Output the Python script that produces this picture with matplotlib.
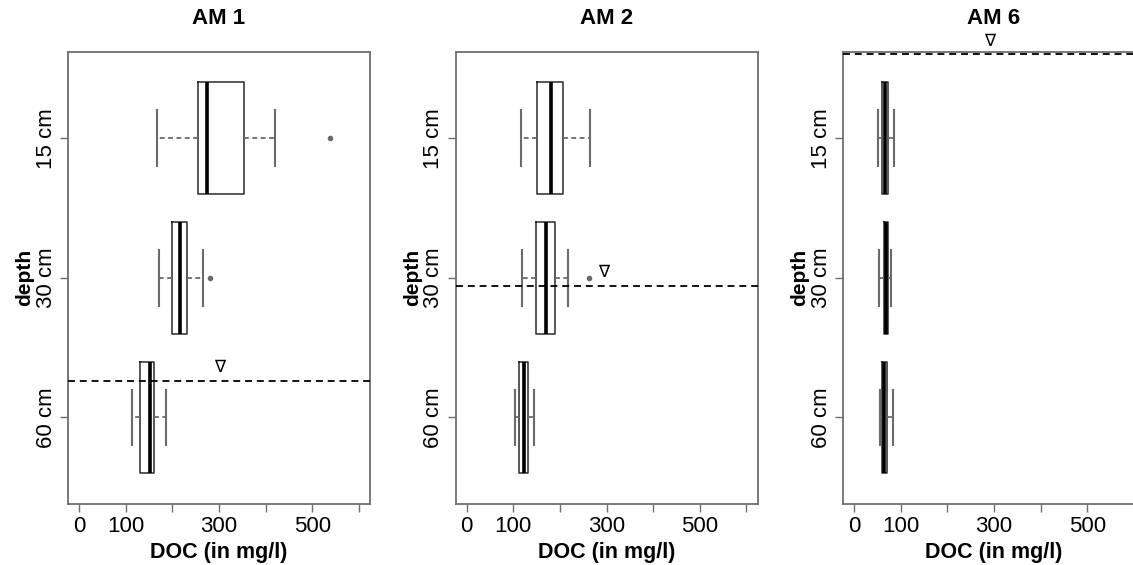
"""DOC concentration by sampling depth for three monitoring sites (AM 1, AM 2, AM 6)."""
import matplotlib

matplotlib.use("Agg")
import matplotlib.pyplot as plt

plt.rcParams["font.family"] = ["Liberation Sans", "DejaVu Sans"]
plt.rcParams["lines.scale_dashes"] = False

sites = ["AM 1", "AM 2", "AM 6"]
depths = ["15 cm", "30 cm", "60 cm"]

# five-number summaries per site, depths top to bottom (15, 30, 60 cm)
whisker_lo = [[167, 172, 113], [116, 118, 104], [52, 54, 56]]
q1 = [[256, 200, 131], [151, 148, 113], [59, 63, 59]]
median = [[275, 217, 152], [180, 170, 123], [66, 68, 64]]
q3 = [[353, 232, 160], [207, 189, 131], [73, 73, 70]]
whisker_hi = [[421, 265, 186], [265, 217, 145], [85, 79, 83]]
outliers = [[[539], [280], []], [[], [262], []], [[], [], []]]

# groundwater level (in depth-axis units) and x of the level marker
water_level = [2.74, 2.06, 0.40]
marker_x = [302, 294, 290]

W, H = 1133, 565
fig = plt.figure(figsize=(W / 100, H / 100), dpi=100)

frame = "#6e6e6e"
for i, site in enumerate(sites):
    left = 68 + i * 387.5
    ax = fig.add_axes([left / W, (H - 504) / H, 302 / W, (504 - 51.7) / H])

    stats = []
    for j in range(len(depths)):
        stats.append({
            "whislo": whisker_lo[i][j], "q1": q1[i][j], "med": median[i][j],
            "q3": q3[i][j], "whishi": whisker_hi[i][j], "fliers": outliers[i][j],
        })
    ax.bxp(
        stats, positions=[1, 2, 3], vert=False, widths=0.8,
        showfliers=True, patch_artist=False,
        boxprops=dict(color="#2a2a2a", linewidth=1.1),
        medianprops=dict(color="black", linewidth=2.6, solid_capstyle="butt"),
        whiskerprops=dict(color="#6a6a6a", linewidth=1.3, dashes=(3.5, 2.5)),
        capprops=dict(color="#6a6a6a", linewidth=1.5),
        capwidths=0.4,
        flierprops=dict(marker="o", markersize=3.0, markerfacecolor="#6a6a6a",
                        markeredgecolor="#6a6a6a"),
    )

    ax.axhline(water_level[i], color="black", linewidth=1.3, dashes=(5, 3.5),
               zorder=4)
    ax.annotate("\u2207", (marker_x[i], water_level[i]), xytext=(0, 3.5),
                textcoords="offset points", ha="center", va="bottom",
                fontsize=12, family=["DejaVu Sans"], annotation_clip=False)

    ax.set_xlim(-24, 624)
    ax.set_ylim(3.62, 0.38)
    ax.set_xticks([0, 100, 200, 300, 400, 500, 600])
    ax.set_xticklabels(["0", "100", "", "300", "", "500", ""])
    ax.set_yticks([1, 2, 3])
    ax.set_yticklabels(depths, rotation=90, va="center")
    ax.tick_params(axis="both", direction="out", length=6, width=1.0,
                   color=frame, labelsize=16, pad=3)
    ax.tick_params(axis="y", pad=2)
    for sp in ax.spines.values():
        sp.set_color(frame)
        sp.set_linewidth(1.3)

    ax.set_title(site, fontsize=16, fontweight="bold", pad=20)
    ax.set_xlabel("DOC (in mg/l)", fontsize=15.5, fontweight="bold", labelpad=3)
    ax.set_ylabel("depth", fontsize=15, fontweight="bold", labelpad=1)

fig.savefig("out.png", dpi=100, facecolor="white")
